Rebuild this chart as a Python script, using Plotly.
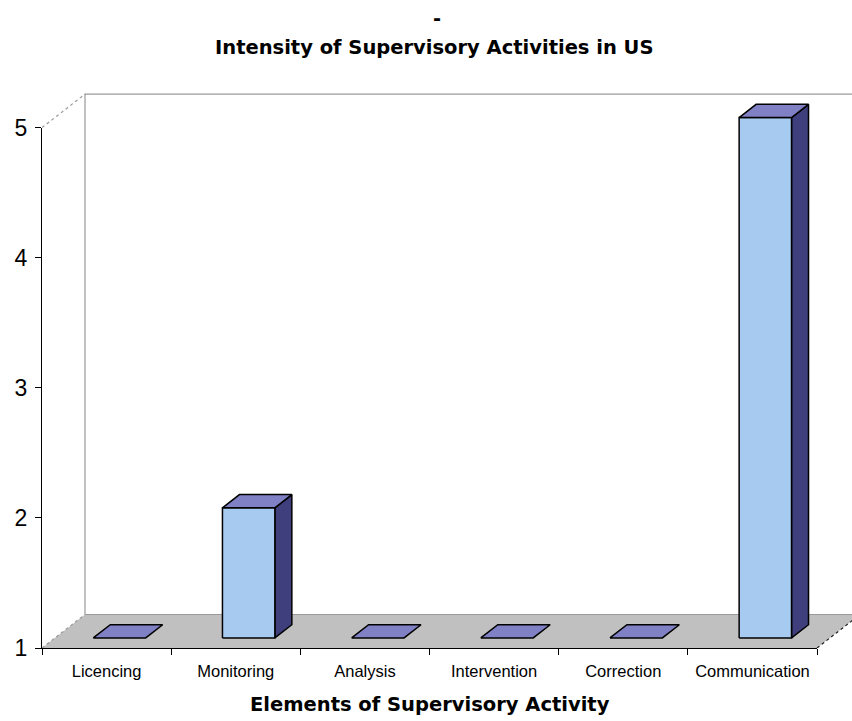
import plotly.graph_objects as go

# ---- data -------------------------------------------------------------
categories = ["Licencing", "Monitoring", "Analysis", "Intervention", "Correction", "Communication"]
values = [1, 2, 1, 1, 1, 5]
y_ticks = [1, 2, 3, 4, 5]

title_text = "Intensity of Supervisory Activities in US"
x_title_text = "Elements of Supervisory Activity"

# ---- page / plot-area geometry -----------------------------------------
W, H = 852, 721
ML, MR, MT, MB = 42, 0, 80, 73
PW, PH = W - ML - MR, H - MT - MB

PX_PER_CAT = 129.17      # horizontal pixels per category on the front plane
PX_PER_UNIT = 130.1      # vertical pixels per value unit
N = len(categories)
Y0 = min(y_ticks)
YMAX = max(y_ticks)

x_range = [0, PW / PX_PER_CAT]
y_range = [Y0, Y0 + PH / PX_PER_UNIT]

# oblique depth of the 3-D box, expressed in axis units
DX = 43 / PX_PER_CAT
DY = 33.5 / PX_PER_UNIT

# column footprint: half width and front/back depth fractions
HALF_W = 26.2 / PX_PER_CAT
D_FRONT, D_BACK = 0.30, 0.695

FRONT_COL = "#A6CAF0"
SIDE_COL = "#3F3F7E"
TOP_COL = "#8080C4"
FLOOR_COL = "#C0C0C0"
WALL_EDGE = "#9A9A9A"

fig = go.Figure()


def poly(xs, ys, fill, line_col, lw):
    fig.add_trace(go.Scatter(
        x=list(xs) + [xs[0]], y=list(ys) + [ys[0]],
        mode="lines", fill="toself", fillcolor=fill,
        line=dict(color=line_col, width=lw),
        hoverinfo="skip", showlegend=False,
    ))


def seg(xs, ys, col, lw, dash="solid"):
    fig.add_trace(go.Scatter(
        x=xs, y=ys, mode="lines",
        line=dict(color=col, width=lw, dash=dash),
        hoverinfo="skip", showlegend=False,
    ))


# back wall (white) with its grey outline
wall_x = [DX, DX, N + DX + 1, N + DX + 1]
wall_y = [Y0 + DY, YMAX + DY, YMAX + DY, Y0 + DY]
poly(wall_x, wall_y, "white", "rgba(0,0,0,0)", 0)
seg([DX, DX, N + DX + 1], [Y0 + DY, YMAX + DY, YMAX + DY], WALL_EDGE, 1.2)
# top edge of the left side wall
seg([0, DX], [YMAX, YMAX + DY], WALL_EDGE, 1.2, "dot")

# floor
poly([0, DX, N + DX, N], [Y0, Y0 + DY, Y0 + DY, Y0], FLOOR_COL, "rgba(0,0,0,0)", 0)
seg([0, DX], [Y0, Y0 + DY], WALL_EDGE, 1.2, "dot")
seg([DX, N + DX + 1], [Y0 + DY, Y0 + DY], WALL_EDGE, 1)
seg([N, N + DX], [Y0, Y0 + DY], "#202020", 1.2, "dot")

# 3-D columns
for i, v in enumerate(values):
    c = i + 0.5
    xl0, xr0 = c - HALF_W + D_FRONT * DX, c + HALF_W + D_FRONT * DX
    xl1, xr1 = c - HALF_W + D_BACK * DX, c + HALF_W + D_BACK * DX
    yb0, yb1 = Y0 + D_FRONT * DY, Y0 + D_BACK * DY
    yt0, yt1 = v + D_FRONT * DY, v + D_BACK * DY
    if v > Y0:
        poly([xr0, xr1, xr1, xr0], [yb0, yb1, yt1, yt0], SIDE_COL, "black", 1.5)
        poly([xl0, xr0, xr0, xl0], [yb0, yb0, yt0, yt0], FRONT_COL, "black", 1.5)
    poly([xl0, xl1, xr1, xr0], [yt0, yt1, yt1, yt0], TOP_COL, "black", 1.5)

# anchor trace for the front-plane axes
fig.add_trace(go.Scatter(x=[0], y=[Y0], xaxis="x2", yaxis="y2", mode="markers",
                         marker=dict(opacity=0), hoverinfo="skip", showlegend=False))

tick_font = dict(family="Liberation Sans, Arial, sans-serif", color="black")
bold_font = dict(family="DejaVu Sans, Verdana, sans-serif", color="black", size=19.5)

fig.update_layout(
    width=W, height=H,
    margin=dict(l=ML, r=MR, t=MT, b=MB, pad=0),
    paper_bgcolor="white", plot_bgcolor="rgba(0,0,0,0)",
    showlegend=False,
    xaxis=dict(range=x_range, visible=False, domain=[0, 1]),
    yaxis=dict(range=y_range, visible=False, domain=[0, 1]),
    xaxis2=dict(
        domain=[0, N * PX_PER_CAT / PW], range=[0, N], anchor="y2",
        showline=True, linecolor="black", linewidth=1.3, showgrid=False, zeroline=False,
        tickmode="array", tickvals=[i + 0.5 for i in range(N)], ticktext=categories,
        ticks="", tickfont=dict(size=16.5, **tick_font), ticklabelstandoff=8,
        minor=dict(tickmode="array", tickvals=list(range(N + 1)), ticks="outside",
                   ticklen=6, tickcolor="black", tickwidth=1.3, showgrid=False),
    ),
    yaxis2=dict(
        domain=[0, (YMAX - Y0) * PX_PER_UNIT / PH], range=[Y0, YMAX], anchor="x2",
        showline=True, linecolor="black", linewidth=1.3, showgrid=False, zeroline=False,
        tickmode="array", tickvals=y_ticks, ticktext=[str(t) for t in y_ticks],
        ticks="outside", ticklen=6, tickcolor="black", tickwidth=1.3,
        tickfont=dict(size=23, **tick_font), ticklabelstandoff=3,
    ),
)


def px_to_paper(px, py):
    return (px - ML) / PW, (H - MB - py) / PH


ax, ay = px_to_paper(434, 47)
fig.add_annotation(x=ax, y=ay, xref="paper", yref="paper", showarrow=False,
                   text="<b>" + title_text + "</b>", font=bold_font,
                   xanchor="center", yanchor="middle")
ax, ay = px_to_paper(437, 18)
fig.add_annotation(x=ax, y=ay, xref="paper", yref="paper", showarrow=False,
                   text="<b>-</b>", font=bold_font, xanchor="center", yanchor="middle")
ax, ay = px_to_paper(430, 704)
fig.add_annotation(x=ax, y=ay, xref="paper", yref="paper", showarrow=False,
                   text="<b>" + x_title_text + "</b>", font=bold_font,
                   xanchor="center", yanchor="middle")

fig.write_html("out.html")
